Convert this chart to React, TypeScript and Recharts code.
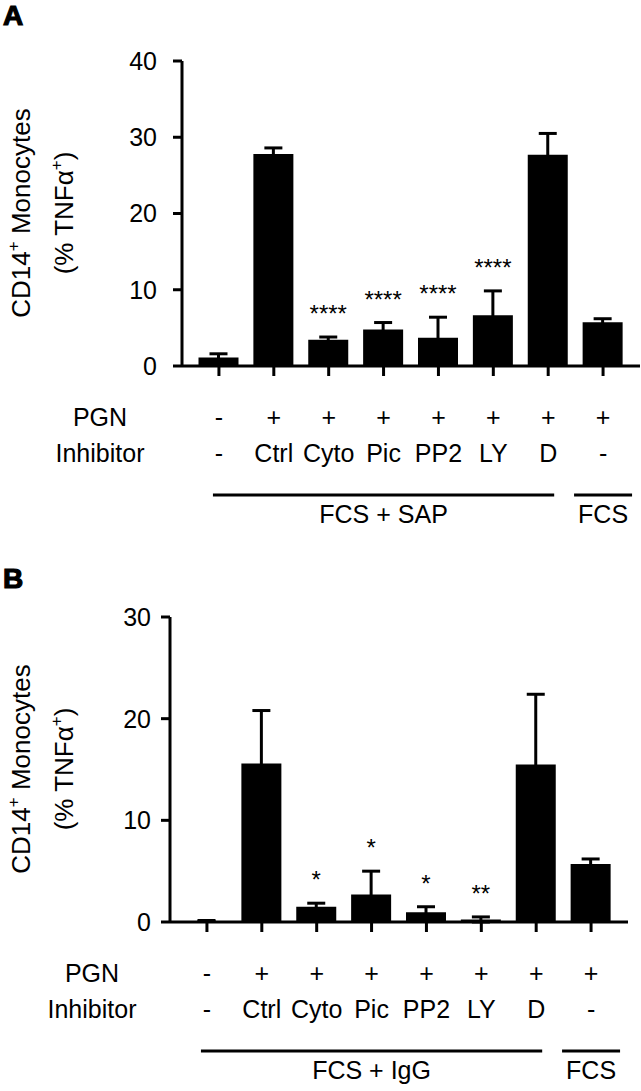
import React from "react";
import { BarChart, Bar, XAxis, YAxis, ErrorBar, LabelList } from "recharts";

// shared x categories
const pgn = ["-", "+", "+", "+", "+", "+", "+", "+"];
const inhibitors = ["-", "Ctrl", "Cyto", "Pic", "PP2", "LY", "D", "-"];

// panel A: FCS + SAP
const sapMeans = [1.1, 27.8, 3.45, 4.8, 3.7, 6.65, 27.7, 5.75];
const sapErrors = [0.5, 0.8, 0.35, 0.9, 2.7, 3.2, 2.8, 0.45];
const sapStars = ["", "", "****", "****", "****", "****", "", ""];
const sapGroups = [
  { label: "FCS + SAP", from: 0, to: 6 },
  { label: "FCS", from: 7, to: 7 },
];
const sapTicks = [0, 10, 20, 30, 40];

// panel B: FCS + IgG
const iggMeans = [0.1, 15.6, 1.5, 2.7, 0.95, 0.25, 15.5, 5.7];
const iggErrors = [0.05, 5.2, 0.35, 2.3, 0.55, 0.25, 6.9, 0.5];
const iggStars = ["", "", "*", "*", "*", "**", "", ""];
const iggGroups = [
  { label: "FCS + IgG", from: 0, to: 6 },
  { label: "FCS", from: 7, to: 7 },
];
const iggTicks = [0, 10, 20, 30];

const FONT = "'Liberation Sans', Arial, Helvetica, sans-serif";
const PLOT_W = 458;
const PAD = 9.5;
const STEP = (PLOT_W - 2 * PAD) / pgn.length;

type Group = { label: string; from: number; to: number };

const buildRows = (means: number[], errors: number[], stars: string[]) =>
  means.map((v, i) => ({ id: String(i), value: v, err: errors[i], stars: stars[i] }));

const makeTick = (groups: Group[], rowLabelX: number) => (props: any) => {
  const { x, y, payload } = props;
  const i = Number(payload.value);
  const t = { fontFamily: FONT, fontSize: 25, fill: "#000", textAnchor: "middle" as const };
  return (
    <g>
      {i === 0 && (
        <>
          <text {...t} x={rowLabelX} y={y + 50}>PGN</text>
          <text {...t} x={rowLabelX} y={y + 86}>Inhibitor</text>
        </>
      )}
      <text {...t} x={x} y={y + 50}>{pgn[i]}</text>
      <text {...t} x={x} y={y + 86}>{inhibitors[i]}</text>
      {groups
        .filter((g) => g.from === i)
        .map((g) => {
          const pad = g.to > g.from ? 6 : 29;
          const x2 = x + (g.to - g.from) * STEP;
          return (
            <g key={g.label}>
              <line x1={x - pad} x2={x2 + pad} y1={y + 119} y2={y + 119} stroke="#000" strokeWidth={3} />
              <text {...t} x={(x + x2) / 2} y={y + 147}>{g.label}</text>
            </g>
          );
        })}
    </g>
  );
};

const makeStars = (means: number[], errors: number[], stars: string[]) => (props: any) => {
  const { x, y, width, height, index } = props;
  const s = stars[index];
  if (!s) return null;
  const ppu = height / means[index];
  const capY = y - errors[index] * ppu;
  return (
    <text x={x + width / 2} y={capY - 15} textAnchor="middle" fontFamily={FONT} fontSize={24} fill="#000">
      {s}
    </text>
  );
};

const yLabel = (cy: number, letter: string, letterY: number) => () => (
  <g fontFamily={FONT} fill="#000">
    <text x={3} y={letterY} fontSize={28} fontWeight="bold" stroke="#000" strokeWidth={1.2}>{letter}</text>
    <text x={30} y={cy} fontSize={26} textAnchor="middle" transform={`rotate(-90 30 ${cy})`}>
      CD14<tspan dy={-11} fontSize={17}>+</tspan>
      <tspan dy={11}> Monocytes</tspan>
    </text>
    <text x={73} y={cy} fontSize={26} textAnchor="middle" transform={`rotate(-90 73 ${cy})`}>
      (% TNFα<tspan dy={-11} fontSize={17}>+</tspan>
      <tspan dy={11}>)</tspan>
    </text>
  </g>
);

interface PanelProps {
  top: number;
  height: number;
  margin: { top: number; right: number; bottom: number; left: number };
  yWidth: number;
  tickMargin: number;
  ticks: number[];
  means: number[];
  errors: number[];
  stars: string[];
  groups: Group[];
  rowLabelX: number;
  letter: string;
  letterY: number;
  xHeight: number;
}

const Panel: React.FC<PanelProps> = (p) => {
  const rows = buildRows(p.means, p.errors, p.stars);
  const cy = p.margin.top + 152;
  return (
    <div style={{ position: "absolute", left: 0, top: p.top }}>
      <BarChart width={641} height={p.height} data={rows} margin={p.margin}>
        <XAxis
          dataKey="id"
          type="category"
          interval={0}
          height={p.xHeight}
          padding={{ left: PAD, right: PAD }}
          axisLine={{ stroke: "#000", strokeWidth: 3 }}
          tickLine={{ stroke: "#000", strokeWidth: 3 }}
          tickSize={10}
          tickMargin={0}
          tick={makeTick(p.groups, p.rowLabelX)}
        />
        <YAxis
          width={p.yWidth}
          domain={[0, p.ticks[p.ticks.length - 1]]}
          ticks={p.ticks}
          interval={0}
          axisLine={{ stroke: "#000", strokeWidth: 3 }}
          tickLine={{ stroke: "#000", strokeWidth: 3 }}
          tickSize={9}
          tickMargin={p.tickMargin}
          tick={{ fill: "#000", fontSize: 25, fontFamily: FONT }}
          label={{ content: yLabel(cy, p.letter, p.letterY) }}
        />
        <Bar dataKey="value" fill="#000" barSize={40} isAnimationActive={false}>
          <ErrorBar dataKey="err" direction="y" width={9} stroke="#000" strokeWidth={3} />
          <LabelList dataKey="stars" content={makeStars(p.means, p.errors, p.stars)} />
        </Bar>
      </BarChart>
    </div>
  );
};

export default function App() {
  return (
    <div style={{ position: "absolute", left: 0, top: 0, width: 641, height: 1091, background: "#fff" }}>
      <Panel
        top={0}
        height={560}
        margin={{ top: 61, right: 1, bottom: 14, left: 0 }}
        yWidth={182}
        tickMargin={16}
        ticks={sapTicks}
        means={sapMeans}
        errors={sapErrors}
        stars={sapStars}
        groups={sapGroups}
        rowLabelX={100}
        letter="A"
        letterY={25}
        xHeight={180}
      />
      <Panel
        top={560}
        height={531}
        margin={{ top: 57, right: 13, bottom: 9, left: 0 }}
        yWidth={170}
        tickMargin={10}
        ticks={iggTicks}
        means={iggMeans}
        errors={iggErrors}
        stars={iggStars}
        groups={iggGroups}
        rowLabelX={92}
        letter="B"
        letterY={28}
        xHeight={160}
      />
    </div>
  );
}
